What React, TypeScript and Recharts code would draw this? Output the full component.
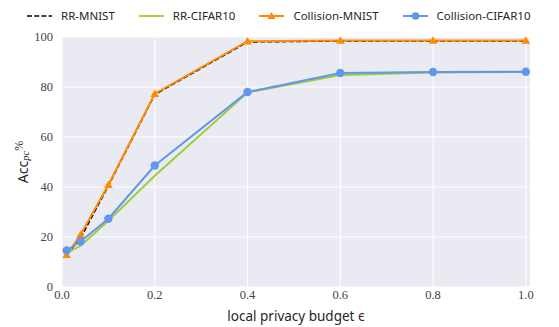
import React from "react";
import { LineChart, Line, XAxis, YAxis, CartesianGrid } from "recharts";

const epsilons = [0.01, 0.04, 0.1, 0.2, 0.4, 0.6, 0.8, 1.0];
const rrMnist = [13.0, 19.5, 40.5, 77.0, 98.0, 98.4, 98.4, 98.4];
const rrCifar = [13.5, 16.5, 26.5, 44.5, 77.8, 84.8, 85.8, 86.0];
const colMnist = [12.9, 20.9, 40.9, 77.3, 98.3, 98.6, 98.6, 98.6];
const colCifar = [14.6, 18.2, 27.3, 48.6, 78.0, 85.6, 86.0, 86.1];
const xTicks = [0, 0.2, 0.4, 0.6, 0.8, 1.0];
const yTicks = [0, 20, 40, 60, 80, 100];

const data = epsilons.map((e, i) => ({
  eps: e,
  rrMnist: rrMnist[i],
  rrCifar: rrCifar[i],
  colMnist: colMnist[i],
  colCifar: colCifar[i],
}));

const series = [
  { key: "rrMnist", name: "RR-MNIST", color: "#000000", dash: "5 2.2", marker: "none", width: 1.5 },
  { key: "rrCifar", name: "RR-CIFAR10", color: "#9ACD32", dash: undefined, marker: "none", width: 1.8 },
  { key: "colMnist", name: "Collision-MNIST", color: "#FF8C00", dash: undefined, marker: "tri", width: 2 },
  { key: "colCifar", name: "Collision-CIFAR10", color: "#6495ED", dash: undefined, marker: "circle", width: 2 },
];

const SERIF = "Liberation Serif";
const SANS = "Noto Sans";

const Triangle = (props: any) => {
  const { cx, cy, fill } = props;
  if (cx == null || cy == null) return null;
  const s = 4.3;
  return (
    <path
      d={`M${cx},${cy - s} L${cx + s},${cy + s * 0.75} L${cx - s},${cy + s * 0.75} Z`}
      fill={fill}
      stroke="none"
    />
  );
};

const XTick = (props: any) => {
  const { x, y, payload } = props;
  return (
    <text x={x} y={y + 10} textAnchor="middle" fill="#444" fontFamily={SERIF} fontSize={12.5}>
      {Number(payload.value).toFixed(1)}
    </text>
  );
};

const YTick = (props: any) => {
  const { x, y, payload } = props;
  return (
    <text x={x} y={y + 4} textAnchor="end" fill="#444" fontFamily={SERIF} fontSize={12.5}>
      {payload.value}
    </text>
  );
};

const LegendBox = () => (
  <div
    style={{
      position: "absolute",
      top: 10,
      left: 0,
      display: "flex",
      alignItems: "center",
      gap: 24,
      paddingLeft: 27,
      fontFamily: SANS,
      fontSize: 11.5,
      lineHeight: "12px",
      color: "#262626",
    }}
  >
    {series.map((s) => (
      <div key={s.key} style={{ display: "flex", alignItems: "center", gap: 9 }}>
        <svg width={25} height={10}>
          <line x1={0} y1={5} x2={25} y2={5} stroke={s.color} strokeWidth={s.width} strokeDasharray={s.dash} />
          {s.marker === "tri" && <path d="M12.5,1 L16.5,8 L8.5,8 Z" fill={s.color} />}
          {s.marker === "circle" && <circle cx={12.5} cy={5} r={3.8} fill={s.color} />}
        </svg>
        <span>{s.name}</span>
      </div>
    ))}
  </div>
);

export default function App() {
  return (
    <div style={{ position: "fixed", left: 0, top: 0, width: 559, height: 327, background: "#fff" }}>
      <LineChart width={559} height={327} data={data} margin={{ top: 37, right: 29, left: 0, bottom: 0 }}>
        <CartesianGrid fill="#EAEAF2" stroke="#ffffff" strokeWidth={1.1} horizontalValues={yTicks} verticalValues={xTicks} />
        <XAxis
          dataKey="eps"
          type="number"
          domain={[0, 1.009]}
          ticks={xTicks}
          allowDataOverflow
          axisLine={false}
          tickLine={false}
          tickSize={0}
          tickMargin={2}
          height={40}
          tick={<XTick />}
          label={{
            value: "local privacy budget \u03F5",
            position: "insideBottom",
            offset: 6,
            fontFamily: SANS,
            fontSize: 13.5,
            fill: "#262626",
          }}
        />
        <YAxis
          type="number"
          domain={[0, 100]}
          ticks={yTicks}
          axisLine={false}
          tickLine={false}
          tickSize={0}
          tickMargin={9}
          width={62}
          tick={<YTick />}
          label={(props: any) => {
            const vb = props.viewBox || {};
            const cx = 22;
            const cy = (vb.y ?? 37) + (vb.height ?? 250) / 2;
            return (
              <text
                x={cx}
                y={cy}
                transform={`rotate(-90, ${cx}, ${cy})`}
                textAnchor="middle"
                dominantBaseline="central"
                fill="#262626"
                fontFamily={SANS}
                fontSize={14}
              >
                Acc
                <tspan dy={3} fontSize={10.5} fontStyle="italic" fontFamily={SERIF}>pc</tspan>
                <tspan dy={-6} fontSize={12} fontFamily={SERIF}>%</tspan>
              </text>
            );
          }}
        />
        {series.map((s) => (
          <Line
            key={s.key}
            dataKey={s.key}
            name={s.name}
            type="linear"
            stroke={s.color}
            strokeWidth={s.width}
            strokeDasharray={s.dash}
            isAnimationActive={false}
            dot={
              s.marker === "tri"
                ? (p: any) => <Triangle key={`t${p.index}`} {...p} fill={s.color} />
                : s.marker === "circle"
                ? { r: 4.2, fill: s.color, stroke: "none" }
                : false
            }
            activeDot={false}
          />
        ))}
      </LineChart>
      <LegendBox />
    </div>
  );
}
